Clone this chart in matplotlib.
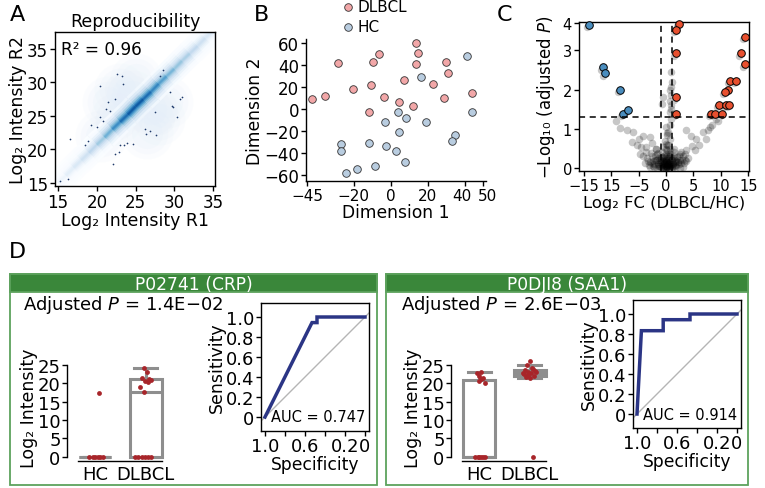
import numpy as np
import matplotlib.pyplot as plt
import matplotlib.transforms as mtransforms
from matplotlib.collections import LineCollection
from matplotlib.colors import LinearSegmentedColormap
from matplotlib.patches import Rectangle

plt.rcParams['font.family'] = ['DejaVu Sans']
plt.rcParams['axes.linewidth'] = 1.0
plt.rcParams['font.size'] = 12

# ---------------- data ----------------
# A: reproducibility (density ridge + sparse points)
ridge_x = [15, 16, 17, 18, 19, 20, 21, 22, 23, 24, 25, 26, 27, 28, 29, 30, 31, 32, 33, 34, 35, 36]
ridge_y = [15.0, 16.1, 17.3, 18.4, 19.5, 20.7, 21.8, 23.0, 24.1, 25.2, 26.4, 27.5,
           28.6, 29.8, 30.9, 32.0, 33.2, 34.3, 35.4, 36.6, 37.7, 38.8]
ridge_level = [0.15, 0.2, 0.25, 0.3, 0.35, 0.45, 0.55, 0.7, 0.85, 0.95, 1.0, 0.95,
               0.85, 0.75, 0.65, 0.55, 0.5, 0.42, 0.36, 0.3, 0.25, 0.2]
haze_x = [21.5, 23.0, 24.5, 22.5, 26.5, 28.0, 25.0, 20.5, 29.0, 27.0]
haze_y = [27.0, 29.0, 28.0, 24.5, 22.5, 24.5, 30.5, 22.0, 27.0, 26.0]
dots_r1 = [16.55, 18.5, 18.8, 19.3, 20.0, 20.4, 20.8, 21.2, 21.5, 21.7, 22.4, 22.6, 22.8, 23.0,
           23.5, 23.9, 24.7, 22.1, 22.4, 15.3, 16.3, 26.2, 26.4, 26.9, 27.5, 27.7, 28.6, 28.2,
           29.5, 29.7, 29.9, 30.3, 30.7, 31.0, 23.2, 23.4, 20.4]
dots_r2 = [21.5, 20.6, 21.3, 23.6, 23.3, 24.8, 24.2, 26.0, 27.0, 25.8, 27.5, 31.3, 19.6, 20.6,
           20.6, 21.0, 20.8, 17.8, 19.3, 15.3, 15.6, 23.1, 22.3, 22.7, 25.6, 22.1, 31.8, 31.0,
           28.5, 26.5, 26.3, 24.8, 27.5, 27.8, 31.0, 29.8, 29.5]

# B: MDS
dlbcl_d1 = [-42.6, -35.3, -28.4, -20.3, -10.6, -9.4, -6.1, -3.5, -11.9, 4.4, 7.5, 12.4,
            13.9, 14.8, 13.9, 23.0, 30.0, 30.9, 28.7, 44.2]
dlbcl_d2 = [9.1, 12.2, 42.0, 18.3, 22.0, 42.7, 50.3, 11.3, -3.0, 6.7, 26.8, 3.0,
            60.0, 51.2, 41.2, 22.9, 42.7, 32.9, 10.4, 14.6]
hc_d1 = [16.2, 41.5, 44.2, 4.2, 8.4, 19.0, -3.0, 4.7, 35.1, 33.1, -26.9, -26.9, -11.4,
         -2.4, 2.9, 7.6, -8.6, -18.1, -24.0]
hc_d2 = [29.6, 48.8, -2.4, -3.0, -8.5, -11.6, -11.6, -21.3, -23.2, -29.0, -32.0, -38.4,
         -31.1, -33.5, -38.4, -47.9, -51.8, -54.3, -57.9]

# C: volcano
up_fc = [2.27, 1.85, 1.85, 1.85, 1.85, 14.45, 13.7, 14.4, 11.67, 12.8, 11.36, 10.76,
         9.73, 10.95, 11.55, 8.27, 8.95, 10.27]
up_p = [3.67, 3.52, 2.93, 1.81, 1.38, 3.34, 2.93, 2.65, 2.22, 2.22, 1.99, 1.94,
        1.61, 1.61, 1.61, 1.38, 1.38, 1.38]
down_fc = [-14.1, -11.5, -11.1, -8.45, -7.85, -6.9]
down_p = [3.65, 2.57, 2.41, 2.0, 1.38, 1.49]
ns_fc = [-7.2, -6.1, -4.3, -3.0, -6.3, -5.4, -4.5, -3.6, -1.8, -3.6, -4.8, -9.1, -8.5, -2.6, -5.0,
         3.7, 4.6, 5.5, 6.7, 7.6, 8.4, 9.1, 8.0, 4.8, 3.7, 2.5, 6.0, 7.2, 5.2, 9.5,
         0.95, 1.1, 0.95, 0.95, 0.65, 0.95, 0.65, 0.95, 0.65, 0.35, 0.65, 0.35, -0.75, -0.5, 0.7, 0.9,
         -3.5, -3.0, -2.5, -2.2, -2.0, -1.6, -1.5, -1.2, -1.0, -0.8, -0.7, -0.5, -0.4, -0.3, -0.2,
         -0.1, 0.0, 0.0, 0.1, 0.2, 0.3, 0.4, 0.5, 0.6, 0.7, 0.8, 1.0, 1.2, 1.4, 1.6, 1.8, 2.0,
         2.3, 2.6, 3.0, 3.3, -2.8, 2.8, -1.9, 1.5, 0.2, -0.2, 0.1, -4.2, 4.0,
         -1.3, -0.9, -0.6, -0.35, -0.15, 0.05, 0.25, 0.45, 0.65, 0.85, 1.1, 1.3, -0.5, 0.3, 0.6,
         -0.1, 0.15, 0.4, -0.3, 0.0, 0.2, 0.5, 0.75, -0.6, 1.7, -1.7, 2.2, -2.3,
         -3.2, -2.4, -1.4, -0.9, 0.9, 1.9, 2.7, 3.6, -3.9, 3.4, -2.1, 2.4, -1.1, 1.1,
         -0.4, 0.4, -0.8, 0.8, 0.0, -0.2, 0.2, 0.55, -0.55, 1.25, -1.25, 0.0, 0.1, -0.1,
         -2.9, -2.2, -1.6, -1.0, -0.5, 0.1, 0.6, 1.2, 1.8, 2.5, 3.1, -3.3, -2.6, -1.8, -1.1,
         -0.4, 0.35, 1.0, 1.6, 2.2, 2.9, 3.5, -1.4, 1.4, 0.0]
ns_p = [0.96, 0.92, 0.82, 0.80, 0.67, 0.58, 0.54, 0.54, 0.49, 0.41, 0.36, 1.19, 1.03, 0.65, 0.75,
        0.96, 0.83, 0.74, 0.92, 0.96, 1.10, 1.25, 1.05, 0.57, 0.45, 0.36, 0.60, 0.75, 0.45, 1.20,
        2.44, 2.19, 2.06, 1.85, 1.72, 1.60, 1.43, 1.26, 1.09, 0.92, 0.75, 0.58, 1.63, 1.80, 2.00, 1.50,
        0.25, 0.15, 0.30, 0.10, 0.20, 0.35, 0.05, 0.15, 0.25, 0.40, 0.08, 0.18, 0.30, 0.02, 0.12,
        0.22, 0.05, 0.35, 0.15, 0.45, 0.08, 0.25, 0.02, 0.15, 0.35, 0.05, 0.20, 0.10, 0.30, 0.05, 0.18, 0.28,
        0.10, 0.20, 0.30, 0.12, 0.38, 0.42, 0.48, 0.50, 0.60, 0.70, 0.85, 0.30, 0.25,
        0.05, 0.12, 0.02, 0.1, 0.06, 0.15, 0.04, 0.12, 0.06, 0.1, 0.04, 0.14, 0.28, 0.22, 0.3,
        0.0, 0.02, 0.07, 0.18, 0.25, 0.32, 0.4, 0.5, 0.55, 0.22, 0.2, 0.15, 0.18,
        0.08, 0.06, 0.1, 0.2, 0.22, 0.08, 0.14, 0.18, 0.12, 0.35, 0.3, 0.32, 0.05, 0.06,
        0.1, 0.12, 0.28, 0.3, 0.18, 0.0, 0.05, 0.1, 0.1, 0.25, 0.26, 0.62, 0.9, 1.05,
        0.02, 0.04, 0.0, 0.03, 0.01, 0.03, 0.0, 0.02, 0.04, 0.01, 0.03, 0.18, 0.12, 0.22, 0.2,
        0.16, 0.14, 0.24, 0.16, 0.15, 0.2, 0.2, 0.38, 0.4, 0.48]

# D: boxplots and ROC curves
groups = ['HC', 'DLBCL']
crp_stats = [dict(q1=0, med=0, q3=0, whislo=0, whishi=0),
             dict(q1=0, med=17.7, q3=21.3, whislo=0, whishi=24.2)]
crp_hc_x = [0.88, 0.95, 1.0, 1.05, 1.1, 1.15, 1.08]
crp_hc_y = [0, 0, 0, 0, 0, 0, 17.5]
crp_dl_x = [1.78, 1.85, 1.92, 1.98, 2.05, 2.1, 1.96, 2.02, 1.93, 2.06, 2.1, 1.98, 2.04, 1.88, 1.97]
crp_dl_y = [0, 0, 0, 0, 0, 0, 24.2, 23.2, 21.6, 21.3, 21.0, 20.7, 20.3, 18.9, 17.7]
saa_stats = [dict(q1=0, med=0, q3=20.9, whislo=0, whishi=23.0),
             dict(q1=22.1, med=22.9, q3=23.7, whislo=21.5, whishi=24.9)]
saa_hc_x = [0.92, 0.97, 1.0, 1.04, 1.08, 1.11, 0.96, 1.04, 0.99, 1.08, 1.0, 1.11, 1.03]
saa_hc_y = [0, 0, 0, 0, 0, 0, 22.7, 23.0, 22.0, 21.5, 20.6, 20.2, 21.2]
saa_dl_x = [2.0, 1.95, 2.05, 1.9, 2.1, 1.97, 2.03, 1.88, 2.08, 1.93, 2.0, 2.12, 1.86, 1.96, 2.06, 2.07]
saa_dl_y = [26.2, 24.9, 24.1, 23.6, 23.4, 23.0, 22.7, 22.5, 22.1, 21.8, 21.4, 23.2, 22.9, 22.4, 23.8, 0]
crp_spec = [1.0, 0.53, 0.48, 0.48, 0.0]
crp_sens = [0.0, 0.944, 0.944, 1.0, 1.0]
saa_spec = [1.0, 0.956, 0.738, 0.738, 0.47, 0.47, 0.0]
saa_sens = [0.0, 0.833, 0.833, 0.943, 0.943, 1.0, 1.0]

# ---------------- figure ----------------
W, H = 765, 489
fig = plt.figure(figsize=(W / 100, H / 100), dpi=100)


def box(l, t, r, b):
    return [l / W, 1 - b / H, (r - l) / W, (b - t) / H]


def ticks(ax, size=12, length=3.6, pad=1.5):
    ax.tick_params(direction='out', length=length, width=1, labelsize=size, pad=pad)


def label(x, y, s):
    fig.text(x / W, 1 - y / H, s, fontsize=16, ha='center', va='center')


# ---- A ----
blues9 = ['#F7FBFF', '#DEEBF7', '#C6DBEF', '#9ECAE1', '#6BAED6', '#4292C6', '#2171B5', '#08519C', '#08306B']
cmap = LinearSegmentedColormap.from_list('blues9', ['white'] + blues9)
axA = fig.add_axes(box(55, 33, 215, 187))
for s, a in [(1400, 0.12), (900, 0.15), (500, 0.18)]:
    axA.scatter(haze_x, haze_y, s=s, color=cmap(0.2), alpha=a, lw=0, zorder=1)
pts = np.column_stack([ridge_x, ridge_y])
segs = np.stack([pts[:-1], pts[1:]], axis=1)
lev = (np.array(ridge_level[:-1]) + np.array(ridge_level[1:])) / 2
for lw, f in [(19, 0.16), (15, 0.24), (11.5, 0.34), (8.5, 0.46), (6, 0.58), (4, 0.7), (2.4, 0.8), (1.2, 0.88)]:
    lc = LineCollection(segs, linewidths=lw, colors=[cmap(min(1, v * f)) for v in lev],
                        capstyle='butt', zorder=2)
    axA.add_collection(lc)
axA.scatter(dots_r1, dots_r2, s=1.5, color='#1F3A6B', lw=0, zorder=3)
axA.set_xlim(14.6, 35.26)
axA.set_ylim(14.55, 37.5)
axA.set_xticks([15, 20, 25, 30, 35])
axA.set_yticks([15, 20, 25, 30, 35])
ticks(axA, size=12)
axA.set_title('Reproducibility', fontsize=12.5, pad=4)
axA.text(0.04, 0.89, 'R² = 0.96', transform=axA.transAxes, fontsize=12.2, va='center')
axA.set_xlabel('Log₂ Intensity R1', fontsize=12.5, labelpad=0)
axA.set_ylabel('Log₂ Intensity R2', fontsize=12.5, labelpad=0)
label(17, 15, 'A')

# ---- B ----
axB = fig.add_axes(box(306, 40, 486, 182))
axB.scatter(dlbcl_d1, dlbcl_d2, s=30, color='#F2A7A8', edgecolor='#333333', lw=0.6, label='DLBCL', clip_on=False)
axB.scatter(hc_d1, hc_d2, s=30, color='#B9CDE0', edgecolor='#333333', lw=0.6, label='HC', clip_on=False)
axB.set_xlim(-45.7, 51.6)
axB.set_ylim(-65.5, 63.9)
axB.set_xticks([-45, -20, 0, 20, 40, 50])
axB.set_yticks([-60, -40, -20, 0, 20, 40, 60])
axB.spines['top'].set_visible(False)
axB.spines['right'].set_visible(False)
ticks(axB, size=12)
axB.tick_params(axis='x', labelsize=11)
# the 40 and 50 labels sit very close, as in the reference; nudge them apart a little
xlabs = axB.get_xticklabels()
for lab, dx in [(xlabs[4], -3), (xlabs[5], 4)]:
    lab.set_transform(lab.get_transform() + mtransforms.ScaledTranslation(dx / 100, 0, fig.dpi_scale_trans))
axB.set_xlabel('Dimension 1', fontsize=12.3, labelpad=0)
axB.set_ylabel('Dimension 2', fontsize=12.3, labelpad=0)
axB.legend(loc='upper left', bbox_to_anchor=(339 / W, 1.0), bbox_transform=fig.transFigure,
           frameon=False, fontsize=11, handletextpad=0.0, labelspacing=0.3, borderpad=0,
           borderaxespad=0, handlelength=1.2)
label(262, 15, 'B')

# ---- C ----
axC = fig.add_axes(box(579, 23, 748.5, 171.5))
axC.scatter(ns_fc, ns_p, s=30, color='black', alpha=0.22, lw=0, zorder=1)
shadow = mtransforms.offset_copy(axC.transData, fig=fig, x=-2, y=-2.5, units='dots')
axC.scatter(up_fc + down_fc, up_p + down_p, s=28, color='#C8C8C8', lw=0, transform=shadow, zorder=2)
axC.scatter(up_fc, up_p, s=30, color='#E8502F', edgecolor='black', lw=0.7, zorder=3, clip_on=False)
axC.scatter(down_fc, down_p, s=30, color='#4A8DBE', edgecolor='black', lw=0.7, zorder=3, clip_on=False)
axC.axvline(-1, color='black', lw=1.1, ls=(0, (4, 3)), zorder=4)
axC.axvline(1, color='black', lw=1.1, ls=(0, (4, 3)), zorder=4)
axC.axhline(1.3, color='black', lw=1.1, ls=(0, (4, 3)), zorder=4)
axC.set_xlim(-15.9, 15.05)
axC.set_ylim(-0.06, 3.72)
axC.set_xticks([-15, -10, -5, 0, 5, 10, 15])
axC.set_xticklabels(['−15', '15', '−5', '0', '5', '10', '15'])
axC.set_yticks([0, 1, 2, 3, 3.7])
axC.set_yticklabels(['0', '1', '2', '3', '4'])
ticks(axC, size=10.5)
axC.set_xlabel('Log₂ FC (DLBCL/HC)', fontsize=11.8, labelpad=2)
axC.set_ylabel('−Log₁₀ (adjusted $\\mathit{P}$)', fontsize=12, labelpad=4)
label(505, 15, 'C')

# ---- D ----
label(17, 252, 'D')
green_head = '#3A873A'
green_edge = '#5DA25D'
grey = '#8E8E8E'


def panel(l, r, title, ptxt, ptx):
    fig.add_artist(Rectangle((l / W, 1 - 486 / H), (r - l) / W, (486 - 275) / H,
                             transform=fig.transFigure, facecolor='none', edgecolor=green_edge, lw=1.3))
    fig.add_artist(Rectangle((l / W, 1 - 293 / H), (r - l) / W, 18 / H,
                             transform=fig.transFigure, facecolor=green_head, edgecolor=green_edge, lw=1.3))
    fig.text((l + r) / 2 / W, 1 - 284.5 / H, title, color='white', fontsize=12.3, ha='center', va='center')
    fig.text(ptx / W, 1 - 305 / H, 'Adjusted $\\mathit{P}$ = ' + ptxt, fontsize=13, va='center')


def boxplot(l, stats, hx, hy, dx, dy):
    ax = fig.add_axes(box(l, 355, l + 101.5, 461.5))
    ax.bxp(stats, positions=[1, 2], widths=0.63, showfliers=False, patch_artist=True,
           boxprops=dict(facecolor='white', edgecolor=grey, linewidth=2.2),
           medianprops=dict(color=grey, linewidth=2.2),
           whiskerprops=dict(color=grey, linewidth=2.2),
           capprops=dict(color=grey, linewidth=2.2), capwidths=0.45)
    ax.scatter(hx, hy, s=12, color='#A8252A', lw=0, zorder=5, clip_on=False)
    ax.scatter(dx, dy, s=12, color='#A8252A', lw=0, zorder=5, clip_on=False)
    ax.set_xlim(0.44, 2.45)
    ax.set_ylim(-1, 28)
    ax.set_yticks([0, 5, 10, 15, 20, 25])
    ax.set_xticks([1, 2])
    ax.set_xticklabels(groups)
    ax.spines['top'].set_visible(False)
    ax.spines['right'].set_visible(False)
    ax.spines['left'].set_bounds(0, 25)
    ax.spines['bottom'].set_bounds(0.65, 2.33)
    ticks(ax, size=13, pad=1)
    ax.tick_params(axis='x', length=0, pad=3)
    ax.set_ylabel('Log₂ Intensity', fontsize=12.5, labelpad=0)
    ax.patch.set_alpha(0)


def roc(l, t, spec, sens, auc):
    ax = fig.add_axes(box(l, t, l + 108, t + 128))
    ax.axline((1, 0), (0, 1), color='#B5B5B5', lw=1.0)
    ax.plot(spec, sens, color='#2B3585', lw=2.5, solid_joinstyle='miter')
    ax.set_xlim(1.04, -0.04)
    ax.set_ylim(-0.14, 1.14)
    ax.set_xticks([1.0, 0.8, 0.6, 0.4, 0.2, 0.0])
    ax.set_xticklabels(['1.0', '', '0.6', '', '0.2', '0'])
    ax.set_yticks([0, 0.2, 0.4, 0.6, 0.8, 1.0])
    ax.set_yticklabels(['0', '0.2', '0.4', '0.6', '0.8', '1.0'])
    ticks(ax, size=13, pad=1)
    ax.set_xlabel('Specificity', fontsize=12.3, labelpad=0)
    ax.set_ylabel('Sensitivity', fontsize=12.5, labelpad=0)
    ax.text(0.0, 0.0, 'AUC = ' + auc, fontsize=10.5, ha='right', va='center')


panel(10, 377, 'P02741 (CRP)', '1.4E−02', 23)
boxplot(67, crp_stats, crp_hc_x, crp_hc_y, crp_dl_x, crp_dl_y)
roc(261, 304, crp_spec, crp_sens, '0.747')

panel(386, 748, 'P0DJI8 (SAA1)', '2.6E−03', 401)
boxplot(451, saa_stats, saa_hc_x, saa_hc_y, saa_dl_x, saa_dl_y)
roc(633, 301, saa_spec, saa_sens, '0.914')

fig.savefig('out.png', dpi=100)
